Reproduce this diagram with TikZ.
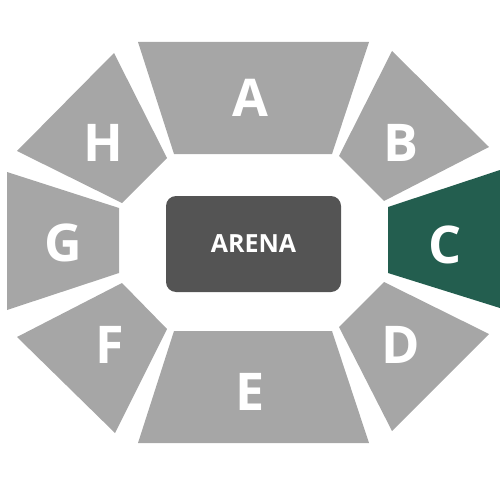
\documentclass[tikz,border=0pt]{standalone}
\usepackage{fontspec}
\setmainfont{Open Sans}
\usepackage{tikz}
\usetikzlibrary{positioning}
\definecolor{stgray}{RGB}{166,166,166}
\definecolor{stdark}{RGB}{84,84,84}
\definecolor{stgreen}{RGB}{35,94,79}
\tikzset{
  stsection/.style={fill=stgray},
  stsectionsel/.style={fill=stgreen},
  stlabel/.style={text=white, inner sep=0pt, font=\fontsize{52}{52}\selectfont\bfseries},
  starena/.style={fill=stdark, rounded corners=10pt, text=white, minimum width=175pt, minimum height=96pt, font=\fontsize{25}{25}\selectfont\bfseries}
}

\begin{document}
\begin{tikzpicture}[x=1pt, y=-1pt]
  \useasboundingbox (0,0) rectangle (500,500);
  % sections, clockwise from the top
  \fill[stsection] (138,42) -- (369,42) -- (332,154) -- (174,154) -- cycle;
  \fill[stsection] (392,51) -- (489,147) -- (384,201) -- (339,156) -- cycle;
  \fill[stsectionsel] (388,207) -- (500,170) -- (500,308) -- (388,273) -- cycle;
  \fill[stsection] (384,282) -- (489,334) -- (392,431) -- (339,327) -- cycle;
  \fill[stsection] (174,331) -- (332,331) -- (369,443) -- (138,443) -- cycle;
  \fill[stsection] (122,283) -- (167,329) -- (115,433) -- (17,337) -- cycle;
  \fill[stsection] (7,172) -- (119,208) -- (119,273) -- (7,310) -- cycle;
  \fill[stsection] (114,53) -- (167,158) -- (122,203) -- (17,151) -- cycle;
  % labels
  \node[stlabel] (secA) at (250,98) {A};
  \node[stlabel] (secB) at (401,143) {B};
  \node[stlabel] (secC) at (445,245) {C};
  \node[stlabel] (secD) at (401,345) {D};
  \node[stlabel] (secE) at (250,392) {E};
  \node[stlabel] (secF) at (110,345) {F};
  \node[stlabel] (secG) at (63,243) {G};
  \node[stlabel] (secH) at (103,143) {H};
  \node[starena] (arena) at (253.5,244) {ARENA};
\end{tikzpicture}
\end{document}
